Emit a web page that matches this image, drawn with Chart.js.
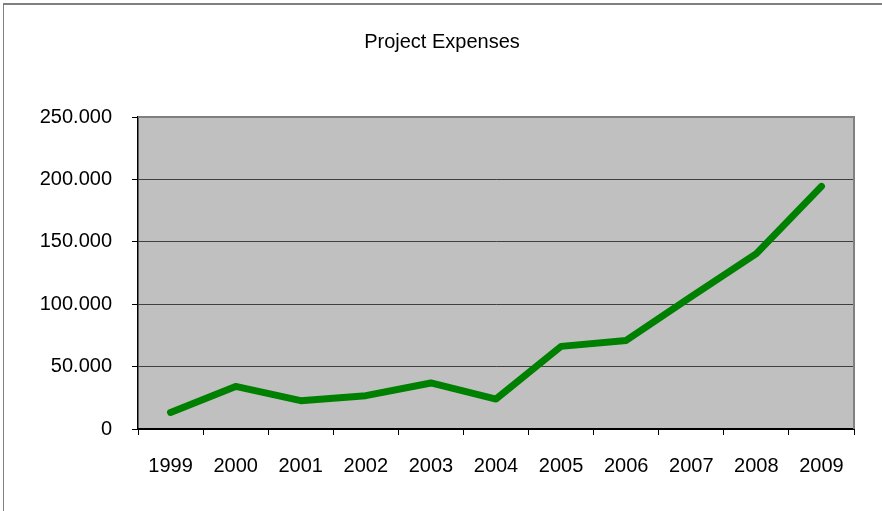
<!DOCTYPE html>
<html>
<head>
<meta charset="utf-8">
<script src="https://cdn.jsdelivr.net/npm/chart.js@4.4.0/dist/chart.umd.min.js"></script>
<style>
    body { margin: 0; background: #fff; }
    #wrap { position: relative; width: 882px; height: 511px; }
    #frame { position: absolute; left: 3px; top: 3px; right: 0; bottom: 0;
             border-top: 2px solid #808080; border-left: 1px solid #808080; }
    canvas { position: absolute; left: 0; top: 0; }
</style>
</head>
<body>
<div id="wrap">
    <div id="frame"></div>
    <canvas id="myChart" width="882" height="511"></canvas>
</div>
<script>
var years = ['1999', '2000', '2001', '2002', '2003', '2004', '2005', '2006', '2007', '2008', '2009'];
var expenses = [13300, 34100, 22700, 26700, 36900, 24000, 66200, 71000, 106000, 140500, 194400];
var yTicks = [0, 50000, 100000, 150000, 200000, 250000];

function formatNumber(v) {
    if (v === 0) return '0';
    return String(v).replace(/\B(?=(\d{3})+(?!\d))/g, '.');
}

// grey plot background and the grey top/right frame of the plot
var plotArea = {
    id: 'plotArea',
    beforeDraw: function(chart) {
        var a = chart.chartArea, ctx = chart.ctx;
        ctx.save();
        ctx.fillStyle = '#C0C0C0';
        ctx.fillRect(a.left, a.top, a.right - a.left, a.bottom - a.top);
        ctx.restore();
    },
    beforeDatasetsDraw: function(chart) {
        var a = chart.chartArea, ctx = chart.ctx;
        ctx.save();
        ctx.strokeStyle = '#808080';
        ctx.lineWidth = 2;
        ctx.beginPath();
        ctx.moveTo(a.left, a.top);
        ctx.lineTo(a.right, a.top);
        ctx.lineTo(a.right, a.bottom);
        ctx.stroke();
        ctx.restore();
    }
};

Chart.defaults.font.family = '"Liberation Sans", Arial, sans-serif';
Chart.defaults.color = '#000';

var ctx = document.getElementById('myChart').getContext('2d');
var myChart = new Chart(ctx, {
    type: 'line',
    data: {
        labels: years,
        datasets: [{
            label: 'Expenses',
            data: expenses,
            borderColor: '#008000',
            borderWidth: 7,
            borderCapStyle: 'round',
            borderJoinStyle: 'round',
            pointRadius: 0,
            tension: 0,
            fill: false
        }]
    },
    options: {
        responsive: false,
        animation: false,
        devicePixelRatio: 1,
        layout: { padding: { left: 30, right: 28, top: 0, bottom: 0 } },
        plugins: {
            legend: { display: false },
            tooltip: { enabled: false },
            title: {
                display: true,
                text: 'Project Expenses',
                font: { size: 20, weight: 'normal' },
                color: '#000',
                padding: { top: 30, bottom: 63 }
            }
        },
        scales: {
            x: {
                offset: true,
                grid: {
                    offset: true,
                    drawOnChartArea: false,
                    drawTicks: true,
                    tickLength: 6,
                    color: '#000'
                },
                border: { color: '#000', width: 2 },
                ticks: { font: { size: 20 }, padding: 19, maxRotation: 0 },
                afterFit: function(scale) { scale.height = 82; }
            },
            y: {
                min: 0,
                max: 250000,
                afterBuildTicks: function(scale) {
                    scale.ticks = yTicks.map(function(v) { return { value: v }; });
                },
                grid: {
                    color: '#404040',
                    lineWidth: 1,
                    tickLength: 6,
                    tickColor: '#000'
                },
                border: { color: '#000', width: 1.5 },
                ticks: {
                    font: { size: 20 },
                    padding: 20,
                    callback: function(v) { return formatNumber(v); }
                },
                afterFit: function(scale) { scale.width = 108; }
            }
        }
    },
    plugins: [plotArea]
});
</script>
</body>
</html>
